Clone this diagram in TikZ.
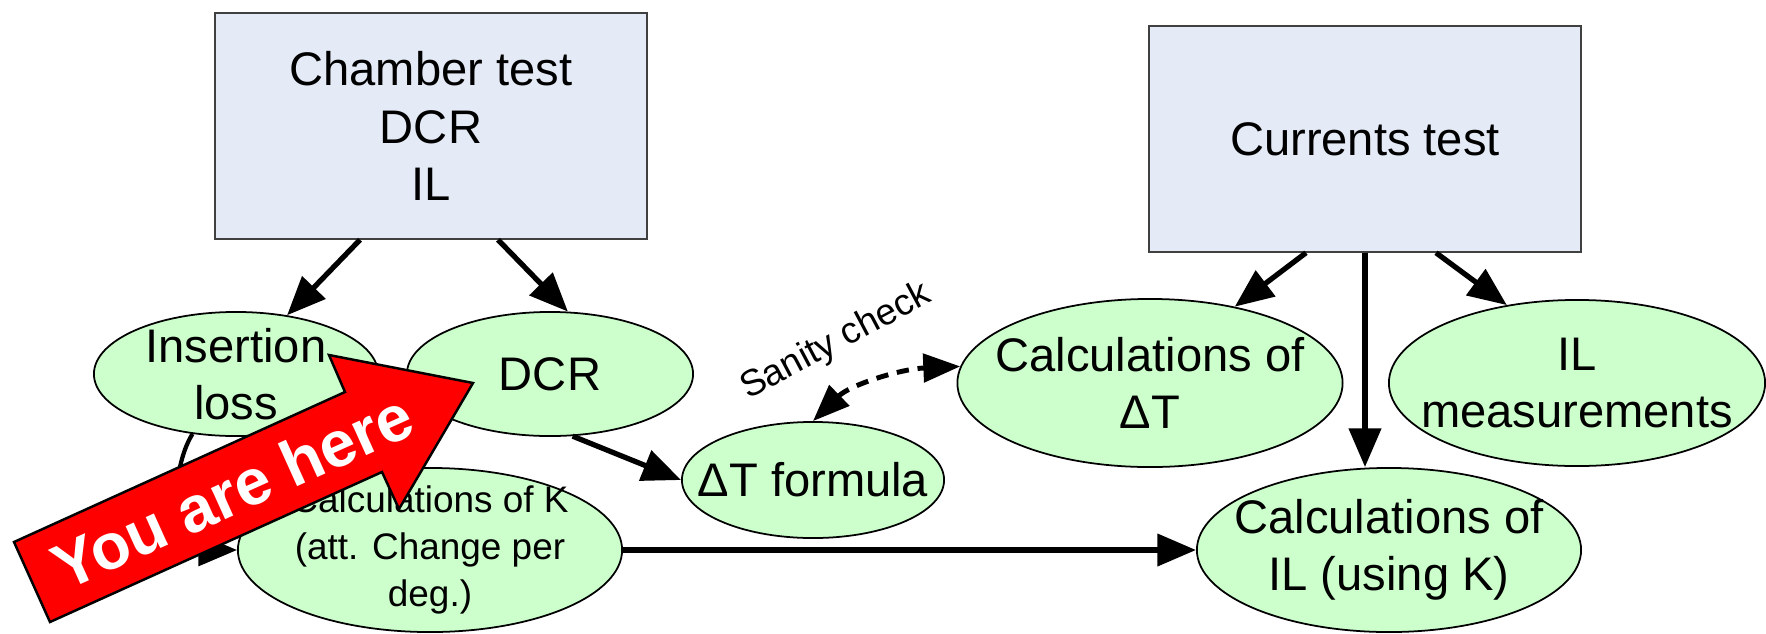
\documentclass[tikz,border=0pt]{standalone}
\usepackage{fontspec}
\setmainfont{Liberation Sans}
\usetikzlibrary{arrows.meta,calc,shapes.geometric}
\definecolor{testBlue}{HTML}{E5EBF6}
\definecolor{calcGreen}{HTML}{CCFFCC}
\definecolor{hereRed}{HTML}{FF0000}

\tikzset{
  testbox/.style={draw=black!75,line width=0.4pt,fill=testBlue,
    minimum width=4.32cm,minimum height=2.26cm,align=center,
    font=\fontsize{13.4pt}{16.4pt}\selectfont},
  calcbubble/.style={ellipse,draw,line width=0.5pt,fill=calcGreen,
    inner xsep=-2cm,inner ysep=-1cm,align=center,
    font=\fontsize{13.4pt}{16.2pt}\selectfont},
  smalltext/.style={font=\fontsize{10.5pt}{13.4pt}\selectfont},
  flowarrow/.style={-{Triangle[length=11pt,width=9pt]},line width=1.5pt},
  sanityarrow/.style={{Triangle[length=10.5pt,width=8pt]}-{Triangle[length=10.5pt,width=8pt]},
    line width=1.4pt,dash pattern=on 3.5pt off 2.5pt},
  youarehere/.style={draw=black,line width=0.7pt,fill=hereRed},
  heretext/.style={text=white,font=\fontsize{18.4pt}{20pt}\selectfont\bfseries},
}

\begin{document}
\begin{tikzpicture}[x=0.01cm,y=-0.01cm]
  \useasboundingbox (0,0) rectangle (1766,633);

  % tests
  \node[testbox] (chamber) at (431,126) {Chamber test\\DCR\\IL};
  \node[testbox] (currents) at (1365,139) {Currents test};

  % results and calculations
  \node[calcbubble,minimum width=2.84cm,minimum height=1.24cm] (ins) at (236,374) {Insertion\\loss};
  \node[calcbubble,minimum width=2.86cm,minimum height=1.24cm] (dcr) at (550,374) {DCR};
  \node[calcbubble,smalltext,minimum width=3.84cm,minimum height=1.64cm] (calcK) at (430,550)
    {Calculations of K\\(att. Change per\\deg.)};
  \node[calcbubble,minimum width=2.62cm,minimum height=1.16cm] (dTf) at (813,480) {ΔT formula};
  \node[calcbubble,minimum width=3.85cm,minimum height=1.68cm] (calcdT) at (1150,383) {Calculations of\\ΔT};
  \node[calcbubble,minimum width=3.76cm,minimum height=1.66cm] (ILmeas) at (1577,383) {IL\\measurements};
  \node[calcbubble,minimum width=3.84cm,minimum height=1.64cm] (calcIL) at (1389,550) {Calculations of\\IL (using K)};

  % connectors
  \draw[flowarrow] ($(chamber.south)+(-71,0)$) -- (ins.49);
  \draw[flowarrow] ($(chamber.south)+(67,0)$) -- (dcr.74);
  \draw[flowarrow] ($(currents.south)+(-59,0)$) -- (calcdT.42);
  \draw[flowarrow] (currents.south) -- (currents.south |- calcIL.north);
  \draw[flowarrow] ($(currents.south)+(71,0)$) -- (ILmeas.132);
  \draw[flowarrow] (dcr.-70) -- (dTf.west);
  \draw[flowarrow] (calcK.east) -- (calcIL.west);
  \draw[flowarrow,line width=1.2pt] (ins.234) .. controls (170,470) and (170,550) .. (calcK.west);
  \draw[sanityarrow] (dTf.north) .. controls (850,385) and (900,369) .. (calcdT.175);
  \node[smalltext,rotate=28] (sanity) at (836,342) {Sanity check};

  % you are here
  \draw[youarehere] (14,542) -- (345,392) -- (329,355) -- (473,383)
    -- (399,509) -- (382,472) -- (50,622) -- cycle;
  \node[heretext,rotate=24.3] (here) at (232,491) {You are here};
\end{tikzpicture}
\end{document}
